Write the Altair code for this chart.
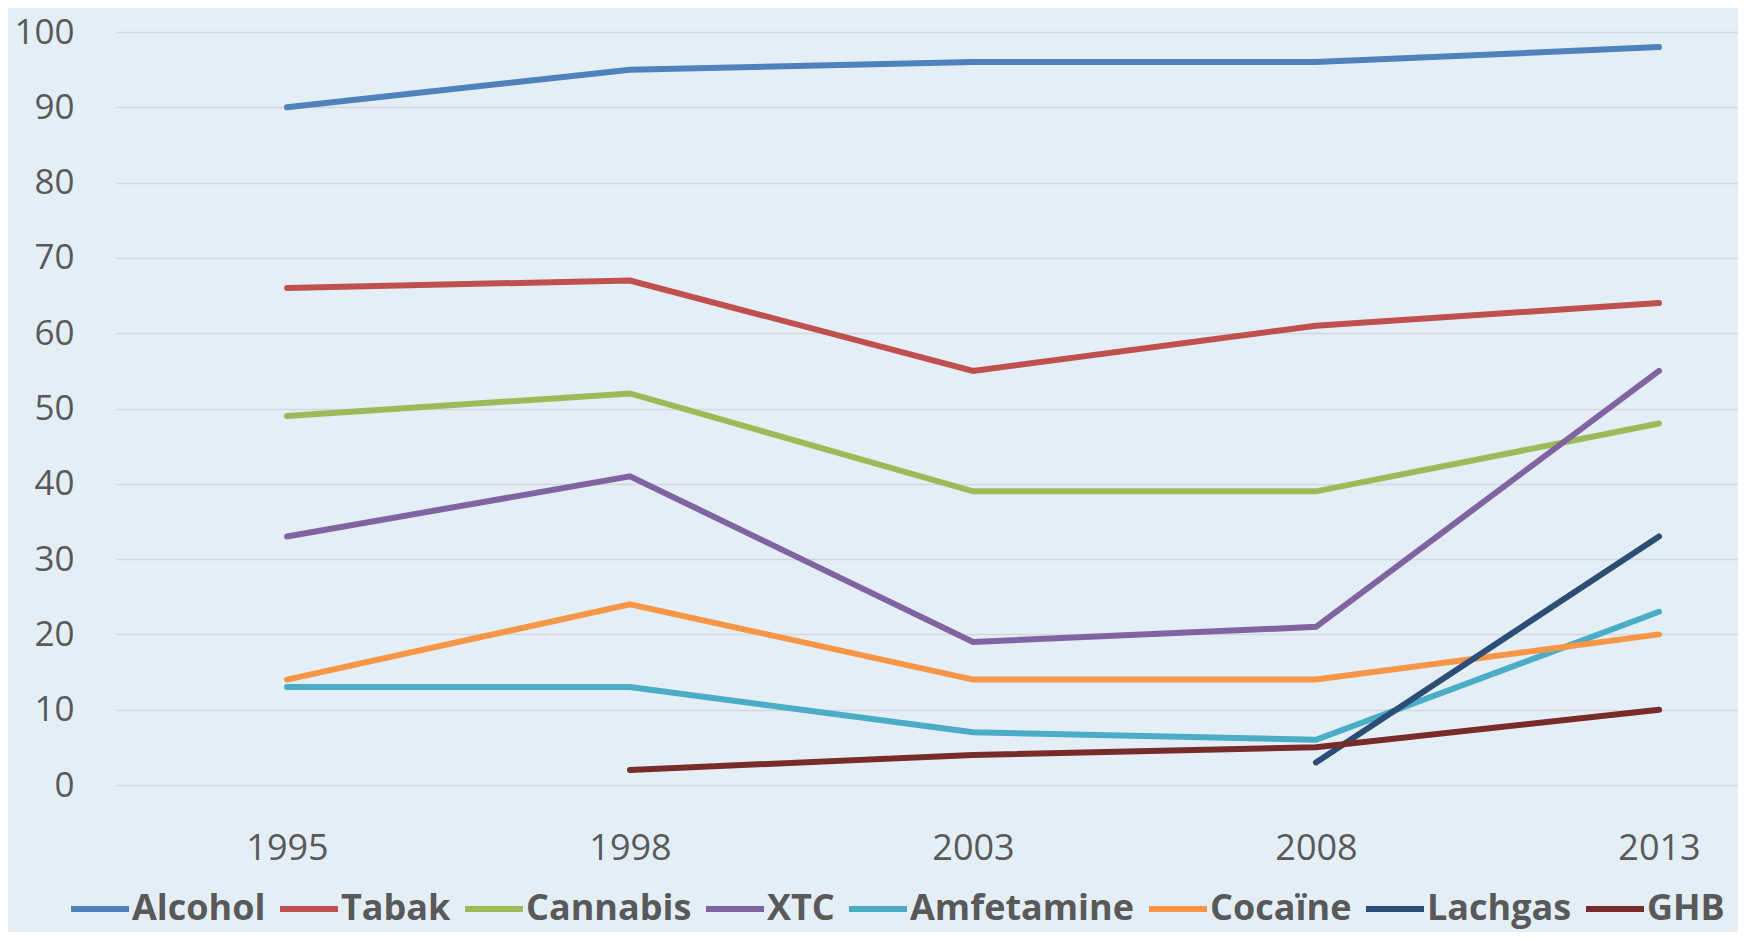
import altair as alt
import pandas as pd

years = ["1995", "1998", "2003", "2008", "2013"]
series = ["Alcohol", "Tabak", "Cannabis", "XTC", "Amfetamine", "Cocaïne", "Lachgas", "GHB"]

alcohol = [90, 95, 96, 96, 98]
tabak = [66, 67, 55, 61, 64]
cannabis = [49, 52, 39, 39, 48]
xtc = [33, 41, 19, 21, 55]
amfetamine = [13, 13, 7, 6, 23]
cocaine = [14, 24, 14, 14, 20]
lachgas = [None, None, None, 3, 33]
ghb = [None, 2, 4, 5, 10]

colors = ["#4f81bd", "#c0504d", "#9bbb59", "#8064a2", "#4bacc6", "#f79646", "#2c4d75", "#772c2a"]
y_ticks = list(range(0, 101, 10))

rows = []
for name, vals in zip(series, [alcohol, tabak, cannabis, xtc, amfetamine, cocaine, lachgas, ghb]):
    for yr, v in zip(years, vals):
        if v is not None:
            rows.append({"series": name, "year": yr, "value": v})
df = pd.DataFrame(rows)

FONT = "Open Sans"
GREY = "#595959"

chart = alt.Chart(df).mark_line(strokeWidth=6, strokeCap="round").encode(
    x=alt.X(
        "year:O",
        sort=years,
        scale=alt.Scale(type="point", padding=0.3644, align=0.684),
        axis=alt.Axis(
            title=None, labelAngle=0, domain=False, ticks=False, grid=False,
            labelPadding=63, labelBaseline="middle", labelFontSize=36,
            labelFont=FONT, labelColor=GREY,
        ),
    ),
    y=alt.Y(
        "value:Q",
        scale=alt.Scale(domain=[0, 100], nice=False),
        axis=alt.Axis(
            title=None, values=y_ticks, domain=False, ticks=False,
            labelPadding=42, labelFontSize=35, labelFont=FONT, labelColor=GREY,
            gridColor="#d3d7db", gridWidth=1.5,
        ),
    ),
    color=alt.Color(
        "series:N",
        sort=series,
        scale=alt.Scale(domain=series, range=colors),
        legend=alt.Legend(
            title=None, orient="none", legendX=-48, legendY=845,
            direction="horizontal", columns=8,
            symbolType="stroke", symbolSize=3364, symbolStrokeWidth=6,
            labelFont=FONT, labelFontSize=36, labelFontWeight="bold",
            labelColor=GREY, labelLimit=400, labelOffset=0, columnPadding=2,
        ),
    ),
).properties(
    width=1622,
    height=753,
    autosize=alt.AutoSizeParams(type="none"),
    padding={"left": 108, "top": 24, "right": 0, "bottom": 147},
    background="#e4eef7",
).configure_view(stroke=None)

chart.save("out.html", embed_options={"renderer": "svg", "actions": False})
